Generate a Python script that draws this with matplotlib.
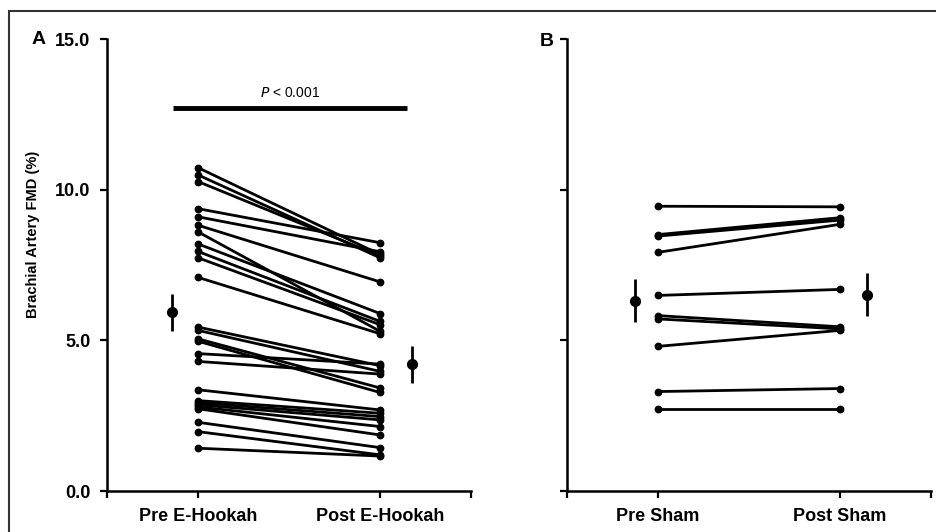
import matplotlib
matplotlib.use("Agg")
import matplotlib.pyplot as plt
from matplotlib.patches import Rectangle

plt.rcParams['font.family'] = ['Liberation Sans', 'DejaVu Sans']

# ---- data ----
# panel A: E-Hookah, one entry per subject (pre, post)
hookah_pre = [10.73, 10.49, 10.27, 9.37, 9.10, 8.82, 8.60, 8.20, 7.95, 7.74, 7.09,
              5.44, 5.33, 5.05, 4.97, 4.56, 4.30,
              3.36, 3.00, 2.93, 2.86, 2.79, 2.73, 2.28, 1.97, 1.42]
hookah_post = [7.85, 7.74, 7.80, 8.24, 7.94, 6.94, 5.30, 5.89, 5.63, 5.52, 5.22,
               4.16, 3.97, 3.42, 3.27, 4.21, 3.88,
               2.69, 2.58, 2.47, 2.36, 2.14, 1.86, 1.44, 1.20, 1.16]
hookah_mean = [5.93, 4.21]
hookah_sem = [0.62, 0.61]

# panel B: Sham
sham_pre = [9.45, 8.51, 8.46, 7.92, 6.49, 5.82, 5.71, 4.80, 3.30, 2.73]
sham_post = [9.43, 9.07, 8.99, 8.85, 6.69, 5.45, 5.38, 5.33, 3.40, 2.73]
sham_mean = [6.32, 6.52]
sham_sem = [0.70, 0.72]

labels_a = ['Pre E-Hookah', 'Post E-Hookah']
labels_b = ['Pre Sham', 'Post Sham']
yticks = [0.0, 5.0, 10.0, 15.0]
p_text = '$\\it{P}$ < 0.001'

W, H = 936, 532
fig = plt.figure(figsize=(W / 100, H / 100), dpi=100)

# outer frame (only left / top visible in the crop)
fig.add_artist(Rectangle((9 / W, -0.5), 2, 1.5 - 11 / H, transform=fig.transFigure,
                         fill=False, ec='#333333', lw=1.5, clip_on=False))

ax_a = fig.add_axes([107 / W, 1 - 491 / H, 364 / W, 452 / H])
ax_b = fig.add_axes([567 / W, 1 - 491 / H, 364 / W, 452 / H])


def draw_panel(ax, pre, post, mean, sem, labels, mean_x, show_y):
    for a, b in zip(pre, post):
        ax.plot([1, 3], [a, b], color='black', lw=2.0, marker='o', ms=4.6,
                solid_capstyle='round', clip_on=False, zorder=3)
    ax.errorbar(mean_x, mean, yerr=sem, fmt='o', color='black', ms=7,
                elinewidth=2.0, capsize=0, clip_on=False, zorder=4)
    ax.set_xlim(0, 4)
    ax.set_ylim(0, 15)
    ax.set_xticks([0, 1, 3, 4])
    ax.set_xticklabels(['', labels[0], labels[1], ''])
    ax.set_yticks(yticks)
    if show_y:
        ax.set_yticklabels(['%.1f' % v for v in yticks])
    else:
        ax.set_yticklabels([])
    for s in ['top', 'right']:
        ax.spines[s].set_visible(False)
    for s in ['left', 'bottom']:
        ax.spines[s].set_linewidth(1.8)
    ax.tick_params(direction='out', length=5, width=1.6, pad=7, labelsize=13)
    for t in ax.get_xticklabels() + ax.get_yticklabels():
        t.set_fontweight('bold')


draw_panel(ax_a, hookah_pre, hookah_post, hookah_mean, hookah_sem, labels_a, [0.71, 3.35], True)
draw_panel(ax_b, sham_pre, sham_post, sham_mean, sham_sem, labels_b, [0.75, 3.3], False)

# significance bar
ax_a.plot([0.725, 3.3], [12.72, 12.72], color='black', lw=3.5, solid_capstyle='butt', clip_on=False)
ax_a.text(2.01, 12.97, p_text, ha='center', va='bottom', fontsize=10)

fig.text(33 / W, 1 - 234 / H, 'Brachial Artery FMD (%)', rotation=90, ha='center', va='center',
         fontsize=10.5, fontweight='bold')
fig.text(39 / W, 1 - 40 / H, 'A', ha='center', va='center', fontsize=14, fontweight='bold')
fig.text(547 / W, 1 - 42 / H, 'B', ha='center', va='center', fontsize=14, fontweight='bold')

fig.savefig('out.png', dpi=100)
